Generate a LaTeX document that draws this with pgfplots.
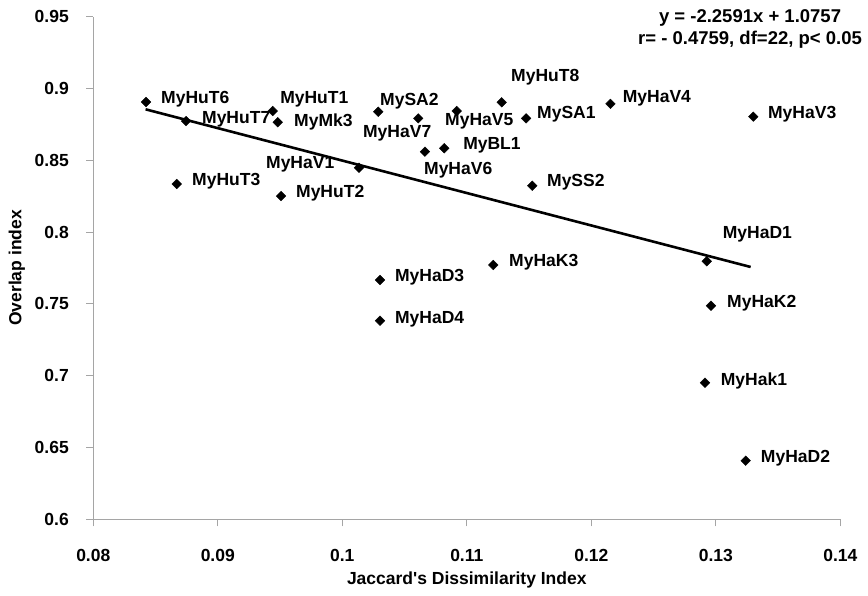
\documentclass[border=0pt]{standalone}
\usepackage{pgfplots}
\pgfplotsset{compat=1.18}
\usepackage{fontspec}
\setmainfont{Liberation Sans}[Ligatures=TeXOff]
\definecolor{axisgray}{RGB}{165,165,165}

\newcommand{\lbl}{\fontsize{17.5}{20}\selectfont\bfseries}

\begin{document}
\begin{tikzpicture}
\begin{axis}[
  scale only axis,
  width=747pt, height=502.6pt,
  xmin=0.08, xmax=0.14,
  ymin=0.6, ymax=0.95,
  axis lines*=left,
  axis line style={axisgray, line width=0.8pt},
  tick style={axisgray, line width=0.8pt},
  tick align=outside,
  major tick length=7pt,
  xtick={0.08,0.09,0.10,0.11,0.12,0.13,0.14},
  ytick={0.6,0.65,0.7,0.75,0.8,0.85,0.9,0.95},
  minor tick num=0,
  /pgf/number format/assume math mode=true,
  /pgf/number format/fixed,
  /pgf/number format/precision=2,
  scaled ticks=false,
  xticklabel style={font=\lbl, inner sep=0pt, anchor=center, yshift=-29.4pt},
  yticklabel style={font=\lbl, inner sep=0pt, anchor=east, xshift=-17.3pt},
  xlabel={Jaccard's Dissimilarity Index},
  ylabel={Overlap index},
  xlabel style={font=\lbl, at={(axis description cs:0.5,0)}, anchor=center, yshift=-61pt},
  ylabel style={font=\lbl, at={(axis description cs:-0.1024,0.5)}, anchor=center},
  clip=false,
]
% data points
\addplot[only marks, mark=square*, mark size=3.4pt,
  mark options={rotate=45, fill=black, draw=black}]
coordinates {
  (0.08423,0.8906) % MyHuT6
  (0.08745,0.8773) % MyHuT7
  (0.09441,0.8843) % MyHuT1
  (0.09481,0.8765) % MyMk3
  (0.10289,0.8838) % MySA2
  (0.10610,0.8792) % MyHaV7
  (0.10919,0.8843) % MyHaV5
  (0.11280,0.8904) % MyHuT8
  (0.11476,0.8792) % MySA1
  (0.12154,0.8893) % MyHaV4
  (0.13301,0.8804) % MyHaV3
  (0.10664,0.8560) % MyHaV6
  (0.10819,0.8584) % MyBL1
  (0.10134,0.8448) % MyHaV1
  (0.11526,0.8323) % MySS2
  (0.08670,0.8335) % MyHuT3
  (0.09508,0.8251) % MyHuT2
  (0.10303,0.7666) % MyHaD3
  (0.10303,0.7383) % MyHaD4
  (0.11213,0.7771) % MyHaK3
  (0.12927,0.7797) % MyHaD1
  (0.12961,0.7487) % MyHaK2
  (0.12913,0.6951) % MyHak1
  (0.13240,0.6408) % MyHaD2
};
% trend line y = -2.2591x + 1.0757
\addplot[black, line width=2.6pt, mark=none] coordinates {
  (0.0842,0.8855) (0.1328,0.7757)
};

% point labels
\begin{scope}[every node/.style={font=\lbl, anchor=mid west, inner sep=0pt}]
\node at (axis cs:0.08544,0.8913) {MyHuT6};
\node at (axis cs:0.08873,0.8774) {MyHuT7};
\node at (axis cs:0.09500,0.8913) {MyHuT1};
\node at (axis cs:0.09612,0.8752) {MyMk3};
\node at (axis cs:0.10303,0.8899) {MySA2};
\node at (axis cs:0.10166,0.8677) {MyHaV7};
\node at (axis cs:0.10825,0.8762) {MyHaV5};
\node at (axis cs:0.11355,0.9066) {MyHuT8};
\node at (axis cs:0.11564,0.8808) {MySA1};
\node at (axis cs:0.10970,0.8595) {MyBL1};
\node at (axis cs:0.10656,0.8419) {MyHaV6};
\node at (axis cs:0.11644,0.8335) {MySS2};
\node at (axis cs:0.12252,0.8920) {MyHaV4};
\node at (axis cs:0.13419,0.8811) {MyHaV3};
\node at (axis cs:0.09387,0.8460) {MyHaV1};
\node at (axis cs:0.08793,0.8344) {MyHuT3};
\node at (axis cs:0.09628,0.8258) {MyHuT2};
\node at (axis cs:0.10423,0.7673) {MyHaD3};
\node at (axis cs:0.10423,0.7383) {MyHaD4};
\node at (axis cs:0.11339,0.7778) {MyHaK3};
\node at (axis cs:0.13055,0.7975) {MyHaD1};
\node at (axis cs:0.13090,0.7492) {MyHaK2};
\node at (axis cs:0.13039,0.6951) {MyHak1};
\node at (axis cs:0.13361,0.6413) {MyHaD2};
\end{scope}

% regression text
\node[font=\fontsize{18.5}{21}\selectfont\bfseries, inner sep=0pt, anchor=center]
  at (axis cs:0.13275,0.9489) {y = -2.2591x + 1.0757};
\node[font=\fontsize{18.5}{21}\selectfont\bfseries, inner sep=0pt, anchor=center]
  at (axis cs:0.13275,0.9338) {r= - 0.4759, df=22, p< 0.05};
\end{axis}
\pgfresetboundingbox
\path[use as bounding box] (-93.3pt,-76.7pt) rectangle (774.7pt,519.3pt);
\end{tikzpicture}
\end{document}
